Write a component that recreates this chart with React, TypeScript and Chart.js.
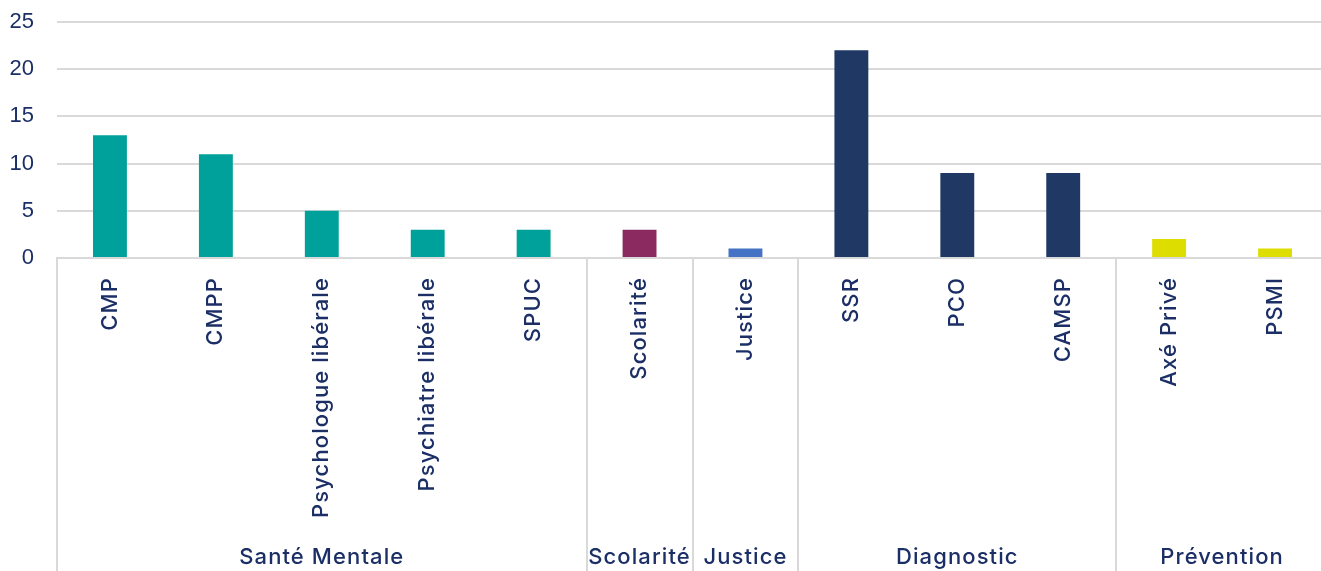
import React, { useEffect, useRef } from "react";
import { Chart, registerables } from "chart.js";

Chart.register(...registerables);

const categories = [
  "CMP",
  "CMPP",
  "Psychologue libérale",
  "Psychiatre libérale",
  "SPUC",
  "Scolarité",
  "Justice",
  "SSR",
  "PCO",
  "CAMSP",
  "Axé Privé",
  "PSMI",
];
const values = [13, 11, 5, 3, 3, 3, 1, 22, 9, 9, 2, 1];
const groupNames = ["Santé Mentale", "Scolarité", "Justice", "Diagnostic", "Prévention"];
const groupSizes = [5, 1, 1, 3, 2];
const groupColors = ["#00A19A", "#8B2A61", "#4472C4", "#203864", "#DDDD00"];
const yTicks = [0, 5, 10, 15, 20, 25];

const TEXT = "#1B2F66";
const GRID = "#D9D9D9";
const FONT = "Inter, sans-serif";
const SPACING = "1.1px";

const barColors: string[] = [];
groupSizes.forEach((n, g) => {
  for (let i = 0; i < n; i++) barColors.push(groupColors[g]);
});

const spacingPlugin = {
  id: "spacingPlugin",
  beforeDraw(chart: any) {
    chart.ctx.letterSpacing = SPACING;
  },
};

const groupPlugin = {
  id: "groupPlugin",
  afterDraw(chart: any) {
    const ctx = chart.ctx;
    const xs = chart.scales.x;
    const ys = chart.scales.y;
    const area = chart.chartArea;
    const H = chart.height;
    const boundary = (i: number) => {
      if (i <= 0) return area.left;
      if (i >= categories.length) return area.right;
      return (xs.getPixelForValue(i - 1) + xs.getPixelForValue(i)) / 2;
    };
    ctx.save();
    // y tick labels
    ctx.letterSpacing = "0px";
    ctx.fillStyle = TEXT;
    ctx.font = `22px 'Liberation Sans', Arial, sans-serif`;
    ctx.textAlign = "right";
    ctx.textBaseline = "middle";
    yTicks.forEach((v) => {
      ctx.fillText(String(v), 34, ys.getPixelForValue(v));
    });

    ctx.letterSpacing = SPACING;
    ctx.strokeStyle = GRID;
    ctx.lineWidth = 2;
    let start = 0;
    const bounds: number[] = [0];
    groupSizes.forEach((n) => {
      start += n;
      bounds.push(start);
    });
    bounds.forEach((b) => {
      if (b >= categories.length) return;
      const px = Math.round(boundary(b));
      ctx.beginPath();
      ctx.moveTo(px, area.bottom);
      ctx.lineTo(px, H);
      ctx.stroke();
    });
    ctx.fillStyle = TEXT;
    ctx.font = `500 22px ${FONT}`;
    ctx.textAlign = "center";
    ctx.textBaseline = "middle";
    groupNames.forEach((name, g) => {
      const l = boundary(bounds[g]);
      const r = boundary(bounds[g + 1]);
      ctx.fillText(name, (l + r) / 2, 557);
    });
    ctx.restore();
  },
};

export default function App() {
  const ref = useRef<HTMLCanvasElement | null>(null);
  useEffect(() => {
    if (!ref.current) return;
    const chart = new Chart(ref.current, {
      type: "bar",
      data: {
        labels: categories,
        datasets: [
          {
            data: values,
            backgroundColor: barColors,
            barPercentage: 0.32,
            categoryPercentage: 1,
          },
        ],
      },
      options: {
        animation: false,
        responsive: false,
        maintainAspectRatio: false,
        devicePixelRatio: 1,
        layout: { padding: { top: 22, right: 0, left: 0, bottom: 0 } },
        plugins: {
          legend: { display: false },
          tooltip: { enabled: false },
        },
        scales: {
          y: {
            min: 0,
            max: 25,
            afterBuildTicks: (s: any) => {
              s.ticks = yTicks.map((v) => ({ value: v }));
            },
            afterFit: (s: any) => {
              s.width = 57;
              s.paddingTop = 0;
              s.paddingBottom = 0;
            },
            ticks: { display: false },
            grid: { color: GRID, lineWidth: 2, drawTicks: false },
            border: { display: false },
          },
          x: {
            afterFit: (s: any) => {
              s.height = 313;
            },
            ticks: {
              color: TEXT,
              font: { family: FONT, size: 22, weight: "500" },
              minRotation: 90,
              maxRotation: 90,
              padding: 11,
              autoSkip: false,
            },
            grid: { display: false },
            border: { color: GRID, width: 2 },
          },
        },
      },
      plugins: [spacingPlugin, groupPlugin],
    });
    return () => chart.destroy();
  }, []);
  return (
    <div style={{ position: "absolute", left: 0, top: 0, width: 1321, height: 571, background: "#fff", overflow: "hidden" }}>
      <canvas ref={ref} width={1328} height={571} style={{ width: 1328, height: 571 }} />
    </div>
  );
}
